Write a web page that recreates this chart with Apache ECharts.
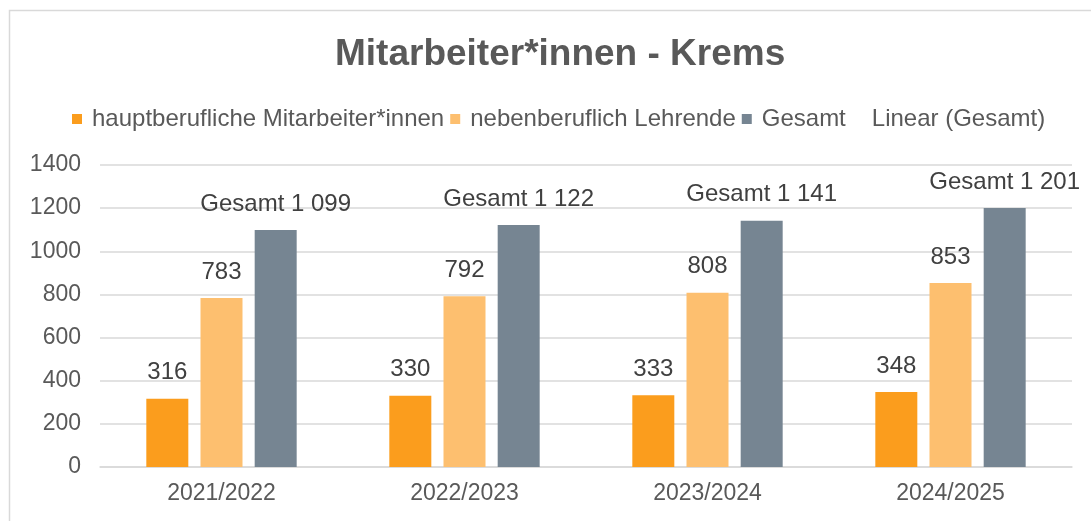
<!DOCTYPE html>
<html>
<head>
<meta charset="utf-8">
<script src="https://cdn.jsdelivr.net/npm/echarts@6/dist/echarts.min.js"></script>
<style>
  html, body { margin: 0; padding: 0; background: #fff; }
  #chart { width: 1091px; height: 521px; }
</style>
</head>
<body>
<div id="chart"></div>
<script>
// Schuljahre
var years = ['2021/2022', '2022/2023', '2023/2024', '2024/2025'];
// Werte je Serie
var hauptberuflich = [316, 330, 333, 348];
var nebenberuflich = [783, 792, 808, 853];
var gesamt = [1099, 1122, 1141, 1201];
var yTicks = [0, 200, 400, 600, 800, 1000, 1200, 1400];

var font = 'Liberation Sans, Arial, sans-serif';
var textGrey = '#595959';

function fmt(v) {
    return String(v).replace(/\B(?=(\d{3})+(?!\d))/g, ' ');
}

var labelStyle = {
    show: true,
    position: 'top',
    distance: 14,
    fontFamily: font,
    fontSize: 24,
    color: '#404040'
};

var option = {
    animation: false,
    backgroundColor: '#fff',
    title: {
        text: 'Mitarbeiter*innen - Krems',
        left: 330,
        top: 31,
        textStyle: { fontFamily: font, fontSize: 37, fontWeight: 'bold', color: textGrey }
    },
    legend: {
        top: 102,
        left: 67,
        itemWidth: 10,
        itemHeight: 10,
        itemGap: 6,
        textStyle: { fontFamily: font, fontSize: 24, color: textGrey, padding: [0, 0, 0, 5] },
        data: [
            { name: 'hauptberufliche Mitarbeiter*innen', icon: 'rect' },
            { name: 'nebenberuflich Lehrende', icon: 'rect' },
            { name: 'Gesamt', icon: 'rect' },
            { name: 'Linear (Gesamt)', icon: 'rect', itemStyle: { color: 'rgba(0,0,0,0)' } }
        ]
    },
    grid: { left: 100, right: 19, top: 165, bottom: 54 },
    xAxis: {
        type: 'category',
        data: years,
        axisTick: { show: false },
        axisLine: { lineStyle: { color: '#d9d9d9', width: 1.5 } },
        axisLabel: { fontFamily: font, fontSize: 23, color: textGrey, margin: 15 }
    },
    yAxis: {
        type: 'value',
        min: yTicks[0],
        max: yTicks[yTicks.length - 1],
        interval: 200,
        axisLine: { show: false },
        axisTick: { show: false },
        splitLine: { lineStyle: { color: '#d9d9d9', width: 1.5 } },
        axisLabel: {
            fontFamily: font, fontSize: 23, color: textGrey, margin: 19,
            formatter: function (v) { return String(v); }
        }
    },
    graphic: [{
        type: 'rect',
        shape: { x: 9.5, y: 10.5, width: 1200, height: 600 },
        style: { fill: 'none', stroke: '#d9d9d9', lineWidth: 1.5 },
        silent: true
    }],
    series: [
        {
            name: 'hauptberufliche Mitarbeiter*innen',
            type: 'bar',
            data: hauptberuflich,
            barWidth: 42,
            barGap: '29%',
            itemStyle: { color: '#FB9D1D' },
            label: labelStyle
        },
        {
            name: 'nebenberuflich Lehrende',
            type: 'bar',
            data: nebenberuflich,
            barWidth: 42,
            itemStyle: { color: '#FDBF6F' },
            label: labelStyle
        },
        {
            name: 'Gesamt',
            type: 'bar',
            data: gesamt,
            barWidth: 42,
            itemStyle: { color: '#768592' },
            label: Object.assign({}, labelStyle, {
                formatter: function (p) { return 'Gesamt ' + fmt(p.value); }
            })
        },
        {
            name: 'Linear (Gesamt)',
            type: 'line',
            data: [],
            itemStyle: { color: 'rgba(0,0,0,0)' },
            lineStyle: { color: 'rgba(0,0,0,0)' }
        }
    ]
};

echarts.init(document.getElementById('chart')).setOption(option);
</script>
</body>
</html>
